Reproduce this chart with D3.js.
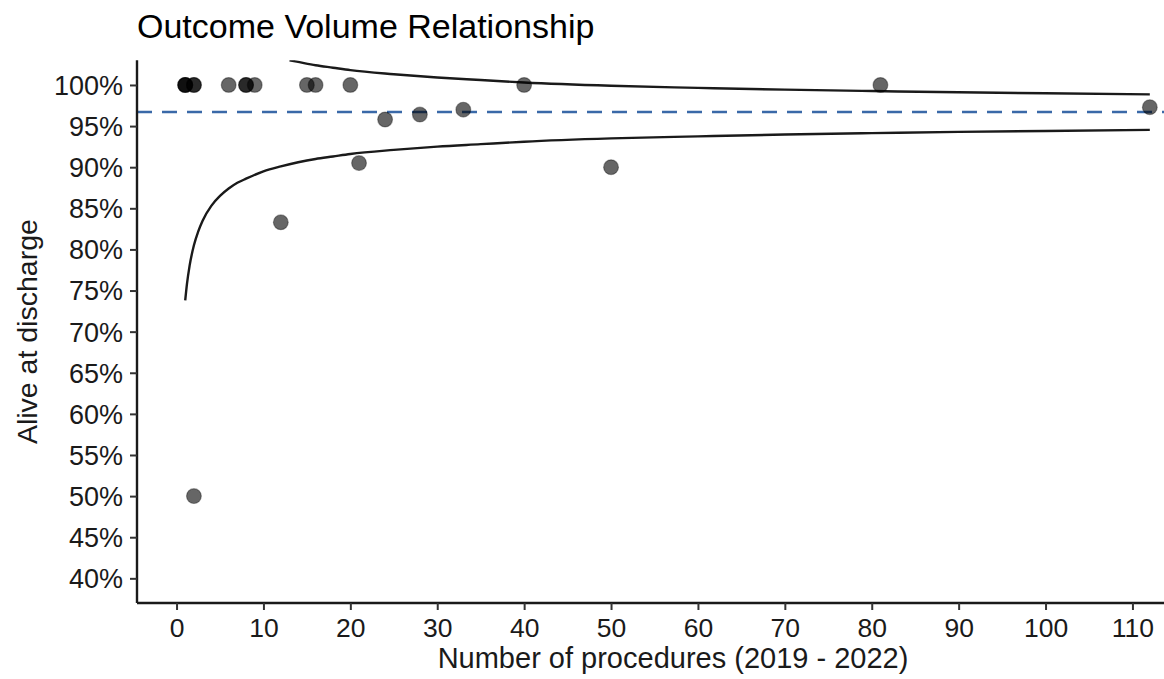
<!DOCTYPE html>
<html>
<head>
<meta charset="utf-8">
<script src="https://cdn.jsdelivr.net/npm/d3@7"></script>
<style>
  html, body { margin: 0; padding: 0; background: #fff; }
  text { font-family: "Liberation Sans", Arial, Helvetica, sans-serif; }
</style>
</head>
<body>
<svg id="chart" width="1164" height="679"></svg>
<script>
// Hospital data: number of procedures and % alive at discharge
const procedures = [1, 1, 1, 2, 2, 2, 6, 8, 8, 9, 12, 15, 16, 20, 21, 24, 28, 33, 40, 50, 81, 112];
const aliveRate  = [100, 100, 100, 100, 100, 50, 100, 100, 100, 100, 83.3, 100, 100, 100, 90.5, 95.8, 96.4, 97.0, 100, 90, 100, 97.3];

// Overall mean (dashed line)
const meanRate = 96.7;

// Funnel limits
const lowerN     = [1, 1.2, 1.5, 2, 2.5, 3, 4, 5, 6, 7, 8, 10, 12, 14, 16, 18, 20, 25, 30, 35, 40, 50, 60, 70, 80, 90, 100, 112];
const lowerLimit = [73.8, 75.8, 78.0, 80.5, 82.2, 83.5, 85.3, 86.5, 87.4, 88.1, 88.6, 89.5, 90.1, 90.6, 91.0, 91.3, 91.6, 92.1, 92.5, 92.8, 93.1, 93.5, 93.75, 93.97, 94.14, 94.29, 94.41, 94.54];
const upperN     = [13, 14, 16, 18, 20, 25, 30, 35, 40, 50, 60, 70, 80, 90, 100, 112];
const upperLimit = [103.0, 102.8, 102.4, 102.1, 101.8, 101.3, 100.9, 100.6, 100.3, 99.9, 99.65, 99.43, 99.26, 99.11, 98.99, 98.86];

const xTicks = [0, 10, 20, 30, 40, 50, 60, 70, 80, 90, 100, 110];
const yTicks = [40, 45, 50, 55, 60, 65, 70, 75, 80, 85, 90, 95, 100];

const title  = "Outcome Volume Relationship";
const xTitle = "Number of procedures (2019 - 2022)";
const yTitle = "Alive at discharge";

const svg = d3.select("#chart");
const left = 137, bottom = 603;

const x = d3.scaleLinear().domain([-4.55, 117.5]).range([left, left + 122.05 * 8.69]);
const y = d3.scaleLinear().domain([37, 103]).range([bottom, 60.3]);

const plotRight = 1164;

// clip
svg.append("defs").append("clipPath").attr("id", "clip")
  .append("rect").attr("x", left).attr("y", y(103)).attr("width", plotRight - left).attr("height", bottom - y(103));

const g = svg.append("g").attr("clip-path", "url(#clip)");

// mean line
g.append("line")
  .attr("x1", left).attr("x2", plotRight)
  .attr("y1", y(meanRate)).attr("y2", y(meanRate))
  .attr("stroke", "#3a69a8").attr("stroke-width", 2.5)
  .attr("stroke-dasharray", "15,10");

const line = d3.line().curve(d3.curveMonotoneX).x(d => x(d[0])).y(d => y(d[1]));

g.append("path").datum(lowerN.map((n, i) => [n, lowerLimit[i]]))
  .attr("d", line).attr("fill", "none").attr("stroke", "#1a1a1a").attr("stroke-width", 2.4);
g.append("path").datum(upperN.map((n, i) => [n, upperLimit[i]]))
  .attr("d", line).attr("fill", "none").attr("stroke", "#1a1a1a").attr("stroke-width", 2.4);

// points
g.selectAll("circle.pt").data(procedures.map((n, i) => [n, aliveRate[i]]))
  .enter().append("circle").attr("class", "pt")
  .attr("cx", d => x(d[0])).attr("cy", d => y(d[1])).attr("r", 7.4)
  .attr("fill", "#000").attr("fill-opacity", 0.6)
  .attr("stroke", "#000").attr("stroke-opacity", 0.35).attr("stroke-width", 1.2);

// axes
const xAxis = svg.append("g").attr("transform", `translate(0,${bottom})`)
  .call(d3.axisBottom(x).tickValues(xTicks).tickSize(7).tickPadding(8).tickSizeOuter(0));
xAxis.select(".domain").attr("d", `M${left},0H${plotRight}`).attr("stroke", "#1a1a1a").attr("stroke-width", 2.4);
xAxis.selectAll(".tick line").attr("stroke", "#333").attr("stroke-width", 2);
xAxis.selectAll(".tick text").attr("font-size", 26.5).attr("fill", "#1a1a1a").attr("dy", "0.71em");

const yAxis = svg.append("g").attr("transform", `translate(${left},0)`)
  .call(d3.axisLeft(y).tickValues(yTicks).tickFormat(d => d + "%").tickSize(7).tickPadding(7).tickSizeOuter(0));
yAxis.select(".domain").attr("d", `M0,${y(103)}V${bottom}`).attr("stroke", "#1a1a1a").attr("stroke-width", 2.4);
yAxis.selectAll(".tick line").attr("stroke", "#333").attr("stroke-width", 2);
yAxis.selectAll(".tick text").attr("font-size", 27).attr("fill", "#1a1a1a").attr("dy", "0.35em");

// titles
svg.append("text").attr("x", 137).attr("y", 37.5).attr("font-size", 34).attr("fill", "#000").text(title);
svg.append("text").attr("x", 673).attr("y", 668).attr("text-anchor", "middle")
  .attr("font-size", 29).attr("fill", "#1a1a1a").text(xTitle);
svg.append("text").attr("transform", `translate(36.5,${(y(103) + bottom) / 2}) rotate(-90)`)
  .attr("text-anchor", "middle").attr("font-size", 28.5).attr("fill", "#1a1a1a").text(yTitle);
</script>
</body>
</html>
